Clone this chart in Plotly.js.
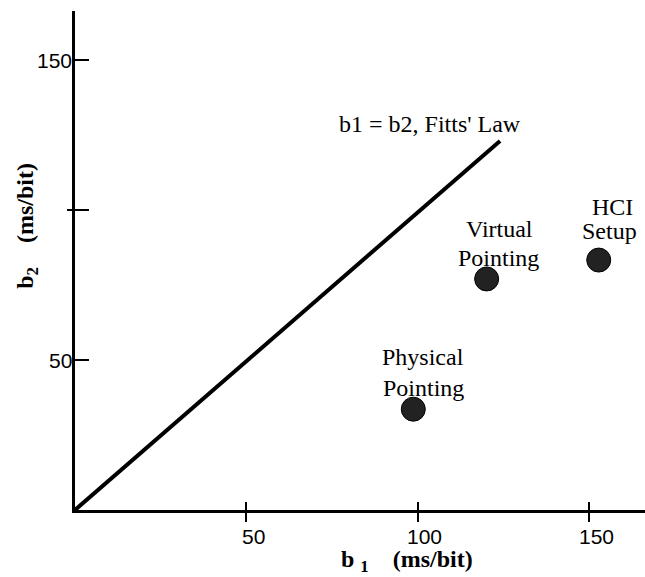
<!DOCTYPE html>
<html><head><meta charset="utf-8">
<script src="https://cdn.plot.ly/plotly-3.0.1.min.js"></script>
<style>html,body{margin:0;padding:0;background:#fff}</style>
</head><body><div id="chart" style="width:645px;height:577px"></div>
<script>
// ---- data ----
const fittsX = [0, 124];
const fittsY = [0, 123];
const fittsLabel = "b1 = b2, Fitts' Law";
const conditions = ['Physical Pointing', 'Virtual Pointing', 'HCI Setup'];
const labelTop = ['Physical', 'Virtual', 'HCI'];
const labelBottom = ['Pointing', 'Pointing', 'Setup'];
const b1 = [98.7, 120.1, 152.8];
const b2 = [33.6, 77, 83.3];
const xTickVals = [50, 100, 150];
const xTickText = ['50', '100', '150'];
const yTickVals = [50, 150];
const yTickText = ['50', '150'];
const yTickMarks = [50, 100, 150];
const yCrossTick = [100];

// ---- styling / positions ----
const W = 645, H = 577, ML = 75, MR = 0, MT = 11, MB = 67;
const XR = [0, 166.3], YR = [0, 166.3];
const serif = 'Liberation Serif, Times New Roman, serif';
const sans = 'Liberation Sans, Arial, Helvetica, sans-serif';
const topShift = [[10, 52], [13, 50], [14, 53]];
const bottomShift = [[10, 21], [12, 21], [11, 29]];

const traces = [
  {x: fittsX, y: fittsY, mode: 'lines', line: {color: '#000', width: 4}, hoverinfo: 'skip'},
  {x: b1, y: b2, text: conditions, mode: 'markers',
   marker: {size: 24, color: '#222', line: {color: '#000', width: 1}}},
  {x: [], y: [], xaxis: 'x2', yaxis: 'y2', mode: 'markers', hoverinfo: 'skip'}
];

const annotations = [];
xTickVals.forEach((v, i) => annotations.push({xref: 'x', yref: 'paper', x: v, y: 0, text: xTickText[i],
  showarrow: false, xanchor: 'center', yanchor: 'middle', xshift: 7, yshift: -26,
  font: {family: sans, size: 21, color: '#000'}}));
yTickVals.forEach((v, i) => annotations.push({xref: 'paper', yref: 'y', x: 0, y: v, text: yTickText[i],
  showarrow: false, xanchor: 'right', yanchor: 'middle', xshift: -1, yshift: -1,
  font: {family: sans, size: 21, color: '#000'}}));
b1.forEach((x, i) => {
  annotations.push({x: x, y: b2[i], text: labelTop[i], showarrow: false,
    xshift: topShift[i][0], yshift: topShift[i][1], xanchor: 'center', yanchor: 'middle',
    font: {family: serif, size: 24, color: '#000'}});
  annotations.push({x: x, y: b2[i], text: labelBottom[i], showarrow: false,
    xshift: bottomShift[i][0], yshift: bottomShift[i][1], xanchor: 'center', yanchor: 'middle',
    font: {family: serif, size: 24, color: '#000'}});
});
annotations.push({xref: 'x', yref: 'y', x: 103.6, y: 128.7, text: fittsLabel, showarrow: false,
  xanchor: 'center', yanchor: 'middle', font: {family: serif, size: 24, color: '#000'}});
annotations.push({xref: 'x', yref: 'paper', x: 96.9, y: 0, yshift: -51, text: 'b <sub>1</sub>    (ms/bit)',
  showarrow: false, xanchor: 'center', yanchor: 'middle', font: {family: serif, size: 24, color: '#000', weight: 'bold'}});
annotations.push({xref: 'paper', yref: 'y', x: 0, xshift: -48, y: 94.7, text: 'b<sub>2</sub>    (ms/bit)',
  textangle: -90, showarrow: false, xanchor: 'center', yanchor: 'middle', font: {family: serif, size: 24, color: '#000', weight: 'bold'}});

const baseAxis = {showgrid: false, zeroline: false, showticklabels: false, tickmode: 'array',
  tickcolor: '#000', tickwidth: 2};
const layout = {
  width: W, height: H,
  margin: {l: ML, r: MR, t: MT, b: MB},
  paper_bgcolor: '#fff', plot_bgcolor: '#fff',
  showlegend: false,
  xaxis: Object.assign({}, baseAxis, {range: XR, showline: true, linecolor: '#000', linewidth: 3,
    tickvals: xTickVals, ticks: 'outside', ticklen: 9}),
  yaxis: Object.assign({}, baseAxis, {range: YR, showline: true, linecolor: '#000', linewidth: 3,
    tickvals: yTickMarks, ticks: 'inside', ticklen: 14}),
  xaxis2: Object.assign({}, baseAxis, {range: XR, overlaying: 'x', anchor: 'y2', side: 'bottom', showline: false,
    tickvals: xTickVals, ticks: 'inside', ticklen: 8}),
  yaxis2: Object.assign({}, baseAxis, {range: YR, overlaying: 'y', anchor: 'x2', side: 'left', showline: false,
    tickvals: yCrossTick, ticks: 'outside', ticklen: 7}),
  annotations: annotations
};
Plotly.newPlot('chart', traces, layout, {displayModeBar: false, staticPlot: true});
</script></body></html>
